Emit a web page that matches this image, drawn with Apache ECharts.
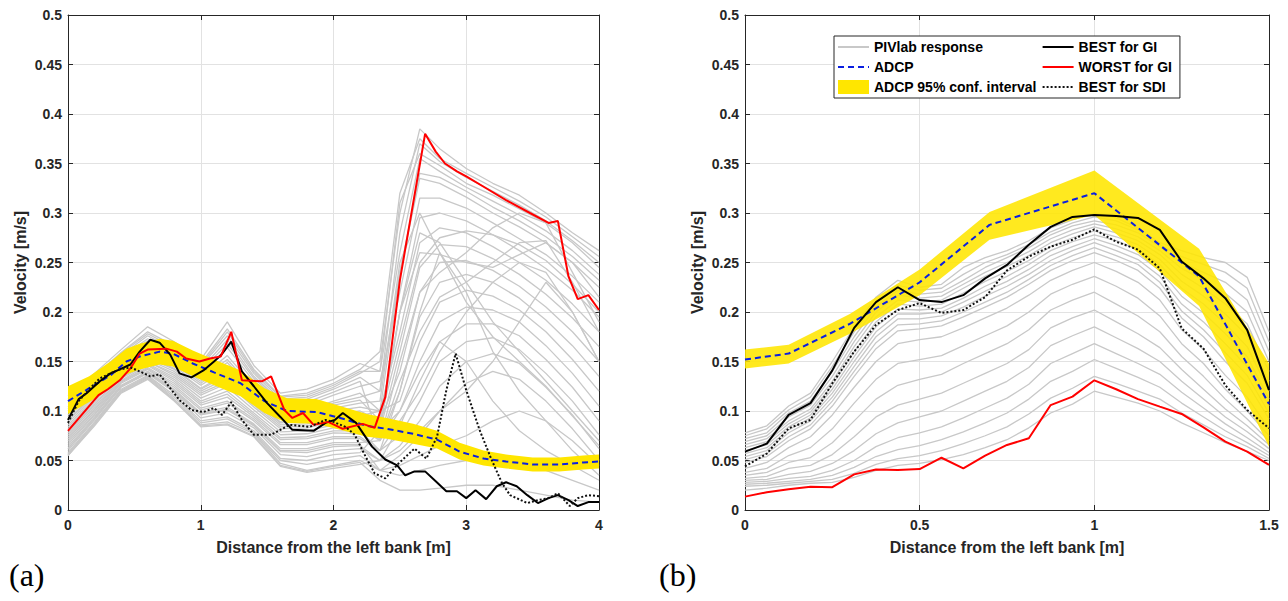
<!DOCTYPE html>
<html><head><meta charset="utf-8">
<script src="https://cdn.jsdelivr.net/npm/echarts@6/dist/echarts.min.js"></script>
<style>html,body{margin:0;padding:0;background:#fff}#c{width:1288px;height:601px}</style>
</head><body><div id="c"></div>
<script>
// ---------------- Panel (a) data ----------------
const xAdcpA = [0,0.16,0.32,0.44,0.54,0.69,0.79,0.94,1.1,1.3,1.48,1.65,1.87,2.05,2.25,2.4,2.6,2.78,2.95,3.13,3.3,3.5,3.7,3.88,4.0];
const adcpA  = [0.110,0.123,0.136,0.150,0.155,0.160,0.158,0.148,0.139,0.128,0.110,0.100,0.099,0.093,0.085,0.082,0.077,0.071,0.059,0.052,0.049,0.046,0.046,0.048,0.049];
const ciLowA = [0.097,0.109,0.123,0.137,0.142,0.147,0.145,0.135,0.126,0.115,0.098,0.088,0.087,0.081,0.074,0.072,0.067,0.062,0.051,0.045,0.042,0.039,0.039,0.041,0.042];
const ciHighA= [0.125,0.135,0.150,0.163,0.168,0.173,0.171,0.161,0.152,0.141,0.123,0.113,0.112,0.105,0.097,0.093,0.087,0.080,0.068,0.060,0.056,0.053,0.053,0.055,0.056];

const xBestA = [0,0.08,0.14,0.24,0.32,0.39,0.47,0.54,0.62,0.69,0.77,0.84,0.93,1.02,1.1,1.15,1.23,1.31,1.4,1.5,1.6,1.69,1.85,1.94,2.01,2.07,2.17,2.29,2.39,2.48,2.54,2.61,2.69,2.77,2.85,2.93,3.0,3.07,3.15,3.23,3.3,3.38,3.46,3.54,3.62,3.69,3.77,3.84,3.92,4.0];
const bestA  = [0.091,0.112,0.118,0.130,0.138,0.142,0.147,0.160,0.172,0.169,0.157,0.138,0.134,0.141,0.150,0.156,0.170,0.140,0.125,0.108,0.094,0.081,0.080,0.088,0.091,0.098,0.088,0.064,0.051,0.045,0.035,0.039,0.039,0.029,0.019,0.019,0.012,0.020,0.011,0.024,0.028,0.024,0.015,0.007,0.012,0.015,0.010,0.004,0.008,0.008];

const xWorstA = [0,0.23,0.3,0.39,0.47,0.54,0.6,0.74,0.82,0.89,0.99,1.07,1.15,1.23,1.31,1.46,1.53,1.63,1.69,1.77,1.85,1.96,2.07,2.22,2.31,2.39,2.5,2.69,2.77,2.84,2.93,3.0,3.15,3.3,3.48,3.62,3.69,3.77,3.84,3.92,4.0];
const worstA  = [0.080,0.116,0.122,0.131,0.143,0.158,0.162,0.163,0.160,0.153,0.150,0.153,0.155,0.180,0.131,0.130,0.135,0.101,0.093,0.098,0.086,0.089,0.082,0.087,0.083,0.114,0.232,0.380,0.362,0.350,0.342,0.337,0.325,0.313,0.300,0.290,0.292,0.236,0.213,0.217,0.202];

const xSdiA = [0,0.08,0.16,0.24,0.32,0.39,0.47,0.54,0.62,0.69,0.77,0.84,0.93,1.02,1.1,1.16,1.23,1.31,1.4,1.53,1.67,1.82,1.94,2.0,2.09,2.16,2.23,2.31,2.39,2.49,2.61,2.7,2.78,2.85,2.92,3.0,3.1,3.19,3.27,3.33,3.46,3.54,3.62,3.69,3.78,3.84,3.92,4.0];
const sdiA  = [0.088,0.110,0.122,0.133,0.138,0.142,0.144,0.140,0.135,0.137,0.123,0.111,0.101,0.099,0.103,0.096,0.109,0.091,0.076,0.076,0.086,0.084,0.091,0.089,0.084,0.076,0.057,0.037,0.032,0.047,0.062,0.052,0.074,0.121,0.158,0.121,0.081,0.051,0.027,0.015,0.007,0.010,0.012,0.017,0.004,0.012,0.015,0.014];

// PIVlab responses (estimated sample of the gray bundle)
const xGrayA = [0,0.2,0.4,0.6,0.8,1.0,1.2,1.4,1.6,1.8,2.0,2.2,2.35,2.5,2.65,2.8,3.0,3.2,3.4,3.6,3.8,4.0];
const grayA = [
 [0.108,0.132,0.156,0.176,0.162,0.145,0.176,0.138,0.112,0.114,0.124,0.138,0.150,0.300,0.385,0.365,0.345,0.330,0.318,0.300,0.280,0.262],
 [0.094,0.120,0.146,0.162,0.150,0.132,0.152,0.122,0.098,0.099,0.108,0.114,0.120,0.280,0.370,0.352,0.336,0.322,0.308,0.292,0.272,0.250],
 [0.115,0.138,0.162,0.185,0.170,0.152,0.190,0.146,0.118,0.122,0.132,0.148,0.140,0.260,0.355,0.342,0.326,0.312,0.298,0.282,0.262,0.238],
 [0.082,0.109,0.138,0.152,0.140,0.120,0.133,0.108,0.086,0.087,0.093,0.095,0.100,0.240,0.335,0.330,0.316,0.300,0.286,0.270,0.250,0.225],
 [0.100,0.126,0.150,0.168,0.156,0.138,0.164,0.130,0.105,0.106,0.116,0.125,0.130,0.220,0.315,0.315,0.305,0.290,0.274,0.258,0.236,0.210],
 [0.070,0.099,0.130,0.144,0.128,0.106,0.114,0.094,0.071,0.072,0.078,0.077,0.090,0.200,0.295,0.300,0.292,0.278,0.262,0.244,0.222,0.195],
 [0.088,0.114,0.142,0.157,0.145,0.126,0.142,0.115,0.092,0.093,0.100,0.104,0.100,0.180,0.270,0.285,0.280,0.266,0.250,0.232,0.208,0.180],
 [0.058,0.089,0.122,0.136,0.116,0.090,0.094,0.080,0.052,0.050,0.056,0.058,0.080,0.160,0.245,0.268,0.266,0.254,0.238,0.218,0.194,0.165],
 [0.076,0.104,0.134,0.148,0.134,0.113,0.124,0.101,0.079,0.080,0.086,0.086,0.090,0.140,0.220,0.250,0.252,0.242,0.226,0.205,0.180,0.150],
 [0.064,0.094,0.126,0.140,0.122,0.098,0.104,0.087,0.062,0.062,0.068,0.068,0.070,0.120,0.195,0.230,0.238,0.230,0.214,0.192,0.166,0.135],
 [0.096,0.122,0.147,0.164,0.152,0.134,0.156,0.125,0.100,0.101,0.110,0.118,0.100,0.110,0.170,0.210,0.222,0.216,0.202,0.180,0.152,0.120],
 [0.084,0.111,0.139,0.154,0.142,0.122,0.136,0.110,0.088,0.089,0.095,0.098,0.080,0.100,0.150,0.190,0.205,0.202,0.190,0.166,0.138,0.105],
 [0.055,0.085,0.118,0.132,0.110,0.084,0.086,0.074,0.044,0.038,0.042,0.046,0.050,0.085,0.130,0.170,0.188,0.188,0.176,0.152,0.124,0.090],
 [0.072,0.101,0.131,0.146,0.130,0.108,0.117,0.096,0.073,0.074,0.080,0.080,0.060,0.075,0.110,0.150,0.170,0.174,0.162,0.138,0.110,0.076],
 [0.060,0.091,0.124,0.138,0.119,0.093,0.098,0.083,0.056,0.054,0.060,0.062,0.050,0.065,0.090,0.125,0.150,0.158,0.148,0.124,0.096,0.062],
 [0.056,0.087,0.120,0.134,0.112,0.086,0.089,0.077,0.047,0.040,0.045,0.050,0.040,0.055,0.075,0.100,0.128,0.140,0.132,0.110,0.082,0.050],
 [0.102,0.128,0.152,0.171,0.158,0.140,0.168,0.133,0.108,0.109,0.119,0.130,0.070,0.150,0.220,0.240,0.260,0.285,0.300,0.290,0.240,0.190],
 [0.090,0.116,0.143,0.159,0.147,0.128,0.146,0.118,0.095,0.096,0.103,0.108,0.110,0.250,0.300,0.260,0.210,0.175,0.150,0.125,0.095,0.065],
 [0.078,0.106,0.136,0.150,0.136,0.116,0.128,0.104,0.082,0.083,0.089,0.090,0.080,0.200,0.280,0.270,0.230,0.190,0.160,0.130,0.100,0.070],
 [0.066,0.096,0.128,0.142,0.124,0.101,0.108,0.090,0.066,0.066,0.072,0.072,0.060,0.120,0.200,0.260,0.220,0.160,0.120,0.090,0.060,0.035],
 [0.112,0.135,0.159,0.180,0.166,0.148,0.183,0.142,0.115,0.118,0.128,0.142,0.160,0.320,0.375,0.355,0.340,0.326,0.312,0.296,0.276,0.256],
 [0.086,0.112,0.140,0.155,0.143,0.123,0.138,0.112,0.089,0.090,0.097,0.100,0.090,0.200,0.260,0.258,0.250,0.245,0.258,0.270,0.250,0.215],
 [0.104,0.130,0.154,0.173,0.160,0.142,0.172,0.135,0.110,0.112,0.122,0.134,0.120,0.240,0.340,0.336,0.322,0.306,0.292,0.276,0.256,0.232],
 [0.091,0.118,0.145,0.160,0.148,0.130,0.149,0.120,0.097,0.098,0.106,0.111,0.090,0.170,0.250,0.275,0.282,0.278,0.268,0.252,0.228,0.200],
 [0.080,0.107,0.136,0.150,0.138,0.118,0.130,0.106,0.084,0.085,0.091,0.092,0.070,0.130,0.180,0.215,0.230,0.250,0.270,0.272,0.230,0.180],
 [0.068,0.097,0.129,0.143,0.126,0.103,0.110,0.092,0.068,0.068,0.074,0.074,0.060,0.090,0.120,0.160,0.200,0.230,0.250,0.240,0.200,0.150],
 [0.062,0.092,0.125,0.139,0.120,0.096,0.101,0.085,0.059,0.058,0.064,0.065,0.050,0.060,0.080,0.100,0.120,0.150,0.190,0.230,0.200,0.150],
 [0.074,0.102,0.133,0.147,0.132,0.110,0.120,0.098,0.076,0.077,0.083,0.083,0.070,0.100,0.140,0.170,0.150,0.110,0.080,0.060,0.045,0.030],
 [0.057,0.088,0.121,0.135,0.114,0.088,0.092,0.078,0.050,0.046,0.051,0.055,0.040,0.045,0.055,0.065,0.075,0.090,0.100,0.090,0.070,0.045],
 [0.062,0.093,0.125,0.139,0.121,0.097,0.102,0.086,0.060,0.060,0.066,0.066,0.040,0.035,0.040,0.045,0.050,0.055,0.050,0.040,0.030,0.020],
 [0.055,0.086,0.119,0.133,0.111,0.085,0.087,0.075,0.045,0.039,0.044,0.048,0.030,0.020,0.020,0.022,0.025,0.025,0.020,0.015,0.010,0.008],
 [0.110,0.134,0.158,0.178,0.164,0.146,0.180,0.140,0.114,0.116,0.126,0.140,0.140,0.310,0.360,0.348,0.330,0.318,0.304,0.290,0.270,0.245]
];

// ---------------- Panel (b) data ----------------
const xB = [0,0.0625,0.125,0.1875,0.25,0.3125,0.375,0.4375,0.5,0.5625,0.625,0.6875,0.75,0.8125,0.875,0.9375,1,1.0625,1.125,1.1875,1.25,1.3125,1.375,1.4375,1.5];
const bestB  = [0.059,0.067,0.096,0.108,0.141,0.184,0.210,0.225,0.212,0.210,0.217,0.234,0.2475,0.268,0.286,0.296,0.298,0.297,0.295,0.283,0.251,0.234,0.214,0.182,0.121];
const worstB = [0.0135,0.018,0.021,0.0236,0.023,0.036,0.041,0.0404,0.0414,0.0528,0.042,0.055,0.0657,0.0724,0.106,0.1145,0.131,0.122,0.112,0.1044,0.097,0.0835,0.069,0.059,0.0455];
const sdiB   = [0.044,0.057,0.0825,0.091,0.128,0.160,0.187,0.202,0.209,0.199,0.202,0.215,0.242,0.256,0.266,0.273,0.2835,0.271,0.263,0.244,0.1835,0.163,0.126,0.101,0.0825];
const xAdcpB = [0,0.125,0.3,0.5,0.7,1.0,1.3,1.5];
const adcpB  = [0.152,0.158,0.188,0.230,0.288,0.320,0.236,0.107];
const ciLowB = [0.143,0.148,0.178,0.217,0.273,0.298,0.206,0.064];
const ciHighB= [0.162,0.167,0.198,0.243,0.301,0.343,0.264,0.148];
const grayB = [
 [0.078,0.085,0.105,0.118,0.150,0.185,0.215,0.232,0.225,0.228,0.245,0.255,0.262,0.272,0.285,0.293,0.300,0.295,0.285,0.270,0.262,0.255,0.250,0.235,0.180],
 [0.075,0.082,0.101,0.114,0.145,0.180,0.210,0.227,0.222,0.224,0.238,0.250,0.258,0.268,0.281,0.290,0.296,0.292,0.283,0.268,0.256,0.248,0.240,0.224,0.170],
 [0.072,0.078,0.098,0.110,0.140,0.175,0.205,0.222,0.218,0.220,0.232,0.245,0.255,0.265,0.278,0.287,0.292,0.288,0.280,0.266,0.250,0.240,0.230,0.212,0.160],
 [0.069,0.075,0.094,0.106,0.135,0.170,0.200,0.217,0.214,0.216,0.228,0.240,0.250,0.261,0.274,0.283,0.289,0.284,0.276,0.262,0.244,0.232,0.219,0.200,0.150],
 [0.066,0.072,0.090,0.102,0.130,0.165,0.195,0.212,0.210,0.212,0.224,0.236,0.246,0.257,0.270,0.279,0.286,0.280,0.272,0.258,0.238,0.224,0.208,0.188,0.140],
 [0.063,0.069,0.087,0.099,0.126,0.160,0.190,0.208,0.206,0.208,0.219,0.231,0.241,0.252,0.266,0.275,0.282,0.276,0.268,0.253,0.231,0.216,0.198,0.176,0.130],
 [0.060,0.066,0.084,0.096,0.122,0.155,0.185,0.203,0.202,0.204,0.214,0.226,0.236,0.248,0.262,0.271,0.278,0.272,0.263,0.248,0.224,0.208,0.188,0.165,0.120],
 [0.057,0.063,0.081,0.093,0.118,0.150,0.180,0.198,0.198,0.200,0.210,0.221,0.231,0.243,0.257,0.266,0.274,0.267,0.258,0.242,0.216,0.199,0.178,0.155,0.112],
 [0.054,0.060,0.078,0.090,0.114,0.145,0.175,0.193,0.193,0.196,0.205,0.216,0.226,0.238,0.252,0.262,0.270,0.262,0.253,0.236,0.208,0.190,0.168,0.145,0.105],
 [0.051,0.057,0.074,0.086,0.110,0.140,0.169,0.187,0.188,0.191,0.200,0.210,0.220,0.233,0.247,0.257,0.265,0.257,0.248,0.230,0.201,0.182,0.159,0.136,0.098],
 [0.048,0.054,0.070,0.082,0.105,0.135,0.163,0.181,0.183,0.186,0.195,0.205,0.215,0.228,0.242,0.252,0.260,0.252,0.242,0.224,0.194,0.175,0.150,0.128,0.092],
 [0.042,0.048,0.063,0.074,0.096,0.124,0.150,0.168,0.172,0.175,0.184,0.194,0.204,0.217,0.232,0.242,0.250,0.241,0.230,0.212,0.182,0.162,0.136,0.114,0.082],
 [0.038,0.042,0.055,0.063,0.082,0.108,0.132,0.148,0.152,0.156,0.166,0.176,0.186,0.200,0.218,0.228,0.236,0.226,0.214,0.196,0.168,0.148,0.122,0.100,0.075],
 [0.035,0.038,0.048,0.053,0.068,0.090,0.112,0.126,0.132,0.137,0.148,0.158,0.168,0.182,0.202,0.212,0.220,0.208,0.196,0.180,0.155,0.135,0.112,0.092,0.070],
 [0.032,0.034,0.042,0.045,0.056,0.074,0.094,0.106,0.112,0.118,0.128,0.138,0.148,0.162,0.184,0.194,0.202,0.190,0.178,0.164,0.142,0.122,0.102,0.085,0.066],
 [0.030,0.031,0.036,0.039,0.047,0.060,0.077,0.088,0.094,0.100,0.110,0.120,0.130,0.144,0.166,0.176,0.185,0.174,0.163,0.150,0.130,0.112,0.094,0.079,0.062],
 [0.028,0.029,0.032,0.034,0.040,0.050,0.064,0.073,0.078,0.084,0.093,0.103,0.113,0.127,0.148,0.158,0.168,0.158,0.148,0.137,0.119,0.103,0.087,0.073,0.058],
 [0.026,0.027,0.029,0.031,0.035,0.043,0.054,0.061,0.065,0.071,0.079,0.088,0.098,0.112,0.130,0.140,0.152,0.143,0.134,0.124,0.108,0.094,0.080,0.068,0.055],
 [0.024,0.025,0.027,0.029,0.031,0.037,0.046,0.052,0.055,0.060,0.067,0.075,0.084,0.097,0.113,0.123,0.135,0.128,0.120,0.112,0.098,0.086,0.074,0.064,0.052],
 [0.020,0.022,0.025,0.027,0.028,0.033,0.040,0.045,0.047,0.051,0.056,0.063,0.071,0.083,0.098,0.107,0.120,0.114,0.108,0.100,0.088,0.078,0.068,0.059,0.050]
];

const LEG = ['PIVlab response','ADCP','ADCP 95% conf. interval','BEST for GI','WORST for GI','BEST for SDI'];

// ---------------- styles ----------------
const FONT = "'Liberation Sans', Arial, sans-serif";
const AX = '#262626';
const GRAY = '#c8c8c8';
const YELLOW = '#ffe600';

function pairs(xs, ys){ return xs.map((x,i)=>[x, ys[i]]); }

function xAxisPair(gi, max, interval){
  const base = {type:'value', gridIndex:gi, min:0, max:max, interval:interval,
    axisLine:{show:true, onZero:false, lineStyle:{color:AX, width:1}},
    axisTick:{show:true, inside:true, length:5, lineStyle:{color:AX}}};
  return [
    Object.assign({}, base, {position:'bottom',
      axisLabel:{color:AX, fontFamily:FONT, fontWeight:'bold', fontSize:14, margin:8},
      splitLine:{show:true, lineStyle:{color:'#e2e2e2', width:1}},
      name:'Distance from the left bank [m]', nameLocation:'middle', nameGap:29,
      nameTextStyle:{color:AX, fontFamily:FONT, fontWeight:'bold', fontSize:16}}),
    Object.assign({}, base, {position:'top', axisLabel:{show:false}, splitLine:{show:false}})
  ];
}
function yAxisPair(gi){
  const base = {type:'value', gridIndex:gi, min:0, max:0.5, interval:0.05,
    axisLine:{show:true, onZero:false, lineStyle:{color:AX, width:1}},
    axisTick:{show:true, inside:true, length:5, lineStyle:{color:AX}}};
  return [
    Object.assign({}, base, {position:'left',
      axisLabel:{color:AX, fontFamily:FONT, fontWeight:'bold', fontSize:14, margin:6,
        formatter:v=>String(+v.toFixed(2))},
      splitLine:{show:true, lineStyle:{color:'#e2e2e2', width:1}},
      name:'Velocity [m/s]', nameLocation:'middle', nameGap:40, nameRotate:90,
      nameTextStyle:{color:AX, fontFamily:FONT, fontWeight:'bold', fontSize:16}}),
    Object.assign({}, base, {position:'right', axisLabel:{show:false}, splitLine:{show:false}})
  ];
}

function line(name, xi, yi, data, color, width, type, z){
  return {name, type:'line', xAxisIndex:xi, yAxisIndex:yi, data, symbol:'none', showSymbol:false,
    color, lineStyle:{color, width, type}, silent:true, z:z||2, animation:false};
}
function band(xi, yi, xs, lo, hi, opacity){
  return {name:'ADCP 95% conf. interval', type:'custom', xAxisIndex:xi, yAxisIndex:yi,
    coordinateSystem:'cartesian2d', silent:true, z:2, color:YELLOW, itemStyle:{color:YELLOW},
    encode:{x:0, y:[1,2]},
    data: xs.map((x,i)=>[x, lo[i], hi[i]]),
    renderItem:function(params, api){
      if (params.dataIndex !== 0) return null;
      const n = params.dataInsideLength;
      const top = [], bot = [];
      for (let j=0;j<n;j++){
        top.push(api.coord([api.value(0,j), api.value(2,j)]));
        bot.push(api.coord([api.value(0,j), api.value(1,j)]));
      }
      return {type:'polygon', shape:{points: top.concat(bot.reverse())},
        style:{fill:YELLOW, opacity:opacity, stroke:null}};
    }};
}

const series = [];
grayA.forEach(row=>series.push(line('PIVlab response',0,0,pairs(xGrayA,row),GRAY,1.3,'solid',1)));
series.push(band(0,0,xAdcpA,ciLowA,ciHighA,1));
series.push(line('ADCP',0,0,pairs(xAdcpA,adcpA),'#0a1fe0',2,[6,4],3));
series.push(line('BEST for GI',0,0,pairs(xBestA,bestA),'#000000',2,'solid',3));
series.push(line('WORST for GI',0,0,pairs(xWorstA,worstA),'#ff0000',2,'solid',3));
series.push(line('BEST for SDI',0,0,pairs(xSdiA,sdiA),'#111111',2,[2,2],3));

grayB.forEach(row=>series.push(line('PIVlab response',2,2,pairs(xB,row),GRAY,1.3,'solid',1)));
series.push(band(2,2,xAdcpB,ciLowB,ciHighB,0.88));
series.push(line('ADCP',2,2,pairs(xAdcpB,adcpB),'#0a1fe0',2,[6,4],3));
series.push(line('BEST for GI',2,2,pairs(xB,bestB),'#000000',2,'solid',3));
series.push(line('WORST for GI',2,2,pairs(xB,worstB),'#ff0000',2,'solid',3));
series.push(line('BEST for SDI',2,2,pairs(xB,sdiB),'#111111',2,[2,2],3));

const xa = xAxisPair(0,4,1), xb = xAxisPair(1,1.5,0.5);
const ya = yAxisPair(0), yb = yAxisPair(1);
const noSym = {opacity:0};

const option = {
  animation:false,
  backgroundColor:'#fff',
  title:[
    {text:'(a)', left:4, top:554, textStyle:{fontFamily:"'Liberation Serif', 'Times New Roman', serif", fontSize:32, fontWeight:'normal', color:'#000'}},
    {text:'(b)', left:654, top:554, textStyle:{fontFamily:"'Liberation Serif', 'Times New Roman', serif", fontSize:32, fontWeight:'normal', color:'#000'}}
  ],
  grid:[
    {left:68, top:15, width:531, height:495, containLabel:false},
    {left:745, top:15, width:524, height:495, containLabel:false}
  ],
  xAxis:[xa[0], xa[1], xb[0], xb[1]],
  yAxis:[ya[0], ya[1], yb[0], yb[1]],
  legend:{
    left:834, top:36, orient:'vertical', height:54, itemGap:6, itemWidth:31, itemHeight:14,
    padding:[4,8,4,3], borderColor:AX, borderWidth:1, backgroundColor:'#fff', selectedMode:false,
    textStyle:{fontFamily:FONT, fontWeight:'bold', fontSize:14, color:'#000'},
    data:[
      {name:LEG[0], itemStyle:noSym},
      {name:LEG[1], itemStyle:noSym},
      {name:LEG[2], icon:'rect', itemStyle:{color:YELLOW}},
      {name:LEG[3], itemStyle:noSym},
      {name:LEG[4], itemStyle:noSym},
      {name:LEG[5], itemStyle:noSym}
    ]
  },
  series: series
};
const chart = echarts.init(document.getElementById('c'), null, {renderer:'svg'});
chart.setOption(option);
</script>
</body></html>
